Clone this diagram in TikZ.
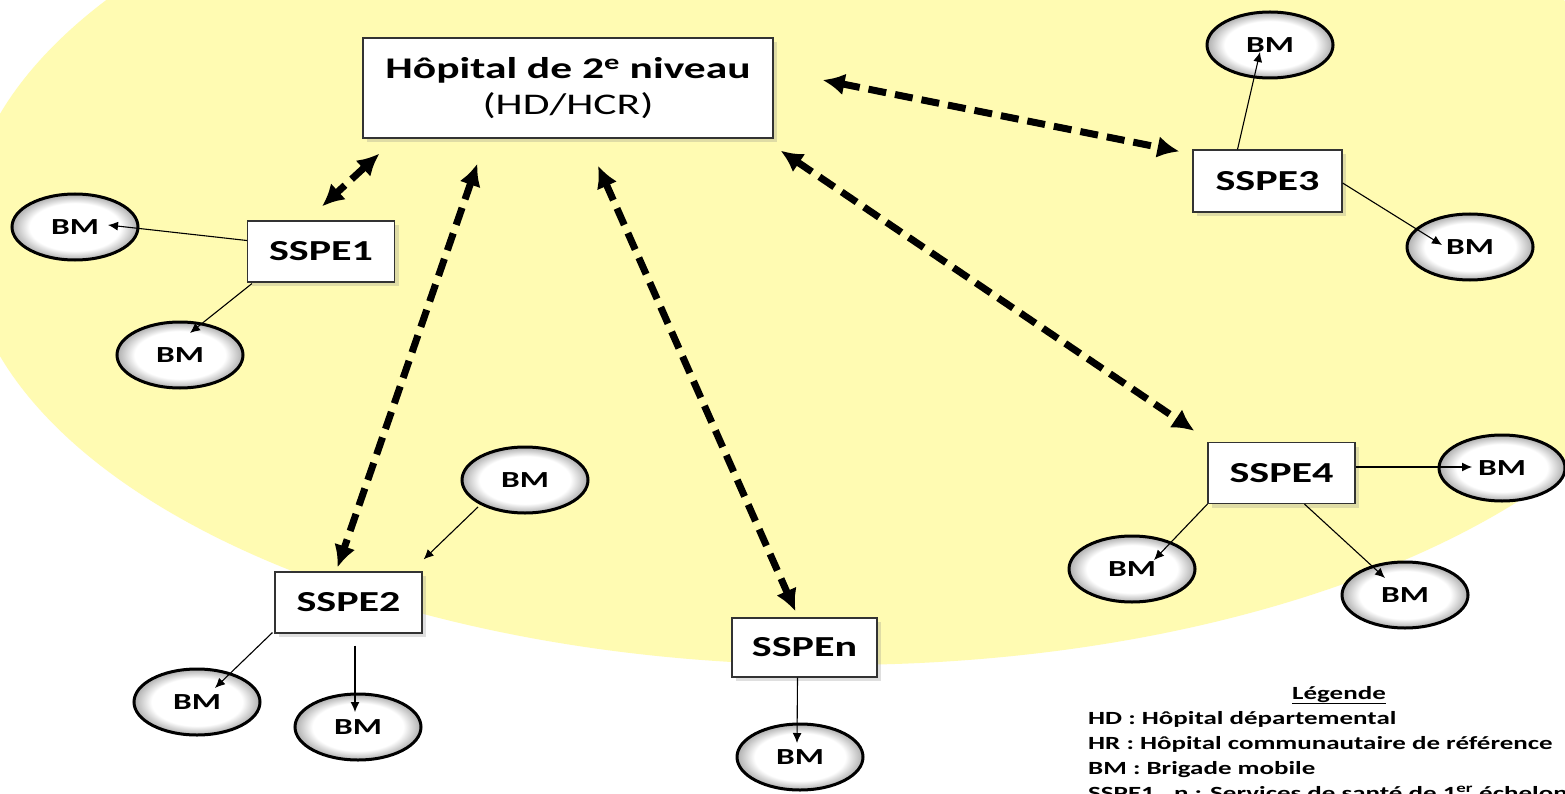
\documentclass[tikz,border=0pt]{standalone}
\usepackage{fontspec}
\setmainfont{Carlito}[FakeStretch=1.45]
\usetikzlibrary{shapes.geometric,arrows.meta,calc,shadows}
\definecolor{bgyellow}{RGB}{255,251,178}
\pgfdeclareradialshading{bmshade}{\pgfpoint{0bp}{0bp}}{color(0bp)=(white); color(18bp)=(white); color(25bp)=(black!32); color(50bp)=(black!32)}
\begin{document}
\begin{tikzpicture}[x=1pt,y=-1pt,
  box/.style={draw=black!80, line width=1.2pt, fill=white, minimum width=147pt, minimum height=61pt, inner sep=0pt,
    font=\fontsize{29}{34}\selectfont\bfseries,
    drop shadow={shadow xshift=4pt, shadow yshift=-4pt, opacity=0.25}},
  bm/.style={ellipse, draw=black, line width=3pt, shading=bmshade, minimum width=126pt, minimum height=66pt, inner sep=0pt,
    font=\fontsize{23}{27}\selectfont\bfseries},
  link/.style={line width=7pt, dash pattern=on 18pt off 9pt, {Latex[length=22pt,width=22pt]}-{Latex[length=22pt,width=22pt]}},
  sub/.style={line width=1.1pt, -{Latex[length=10pt,width=9pt]}},
  leg/.style={anchor=base west, inner sep=0pt, font=\fontsize{18.6}{23}\selectfont\bfseries}]
\useasboundingbox (0,0) rectangle (1565,794);
\fill[white] (0,0) rectangle (1565,794);
\begin{scope}
\clip (0,0) rectangle (1565,794);
\fill[bgyellow] (835,235) ellipse [x radius=870pt, y radius=430pt];
\end{scope}

% main boxes
\node[box, minimum width=410pt, minimum height=100pt, align=center, font=\fontsize{30}{36}\selectfont] (hosp) at (568,88)
  {{\bfseries Hôpital de 2\textsuperscript{e} niveau}\\(HD/HCR)};
\node[box] (sspe1) at (321,251.5) {SSPE1};
\node[box] (sspe2) at (348.5,602.5) {SSPE2};
\node[box, minimum height=59pt, minimum width=145pt] (sspen) at (804.5,647.5) {SSPEn};
\node[box, minimum width=149pt, minimum height=62pt] (sspe3) at (1267.5,181) {SSPE3};
\node[box] (sspe4) at (1281.5,473) {SSPE4};

% BM ellipses
\node[bm] (bm1a) at (75,227) {BM};
\node[bm] (bm1b) at (180,355) {BM};
\node[bm] (bm2a) at (525,480) {BM};
\node[bm] (bm2b) at (197,702) {BM};
\node[bm] (bm2c) at (358,727) {BM};
\node[bm] (bmn) at (800,757) {BM};
\node[bm] (bm3a) at (1270,45) {BM};
\node[bm] (bm3b) at (1470,247) {BM};
\node[bm] (bm4a) at (1502,468) {BM};
\node[bm] (bm4b) at (1132,569) {BM};
\node[bm] (bm4c) at (1405,595) {BM};

% dashed double arrows
\draw[link] ($(hosp.south west)+(17,15)$) -- ($(sspe1.north)+(1,-14)$);
\draw[link] ($(hosp.south west)+(115,25)$) -- ($(sspe2.north)+(-11,-4)$);
\draw[link] ($(hosp.south)+(30,27)$) -- ($(sspen.north)+(-9,-6)$);
\draw[link] ($(hosp.east)+(49,-8)$) -- ($(sspe3.north west)+(-13,2)$);
\draw[link] ($(hosp.south east)+(7,12)$) -- ($(sspe4.north west)+(-13,-11)$);

% thin arrows
\draw[sub] ($(sspe1.west)+(0,-11)$) -- ($(bm1a.center)+(33,-2)$);
\draw[sub] ($(sspe1.south west)+(5,1)$) -- ($(bm1b.center)+(10,-22)$);
\draw[sub] ($(bm2a.center)+(-47,27)$) -- ($(sspe2.north east)+(1,-12)$);
\draw[sub] ($(sspe2.south west)+(-2,-1)$) -- ($(bm2b.center)+(18,-14)$);
\draw[sub] ($(sspe2.south)+(6.5,12)$) -- ($(bm2c.center)+(-3,-15)$);
\draw[sub] ($(sspen.south)+(-7,0)$) -- ($(bmn.center)+(-3,-14)$);
\draw[sub] ($(sspe3.north)+(-30,0)$) -- ($(bm3a.center)+(-10,7)$);
\draw[sub] ($(sspe3.east)+(0,2)$) -- ($(bm3b.center)+(-28,-2)$);
\draw[sub] ($(sspe4.east)+(0,-6)$) -- ($(bm4a.center)+(-30,-1)$);
\draw[sub] (sspe4.south west) -- ($(bm4b.center)+(22,-9)$);
\draw[sub] ($(sspe4.south)+(23,0)$) -- ($(bm4c.center)+(-20,-17)$);

% legend
\node[leg, anchor=base] (legt) at (1339,699) {\underline{Légende}};
\node[leg] (leg1) at (1088,724) {HD : Hôpital départemental};
\node[leg] (leg2) at (1088,749) {HR : Hôpital communautaire de référence};
\node[leg] (leg3) at (1088,774) {BM : Brigade mobile};
\node[leg] (leg4) at (1088,799) {SSPE1…n : Services de santé de 1\textsuperscript{er} échelon};
\end{tikzpicture}
\end{document}
